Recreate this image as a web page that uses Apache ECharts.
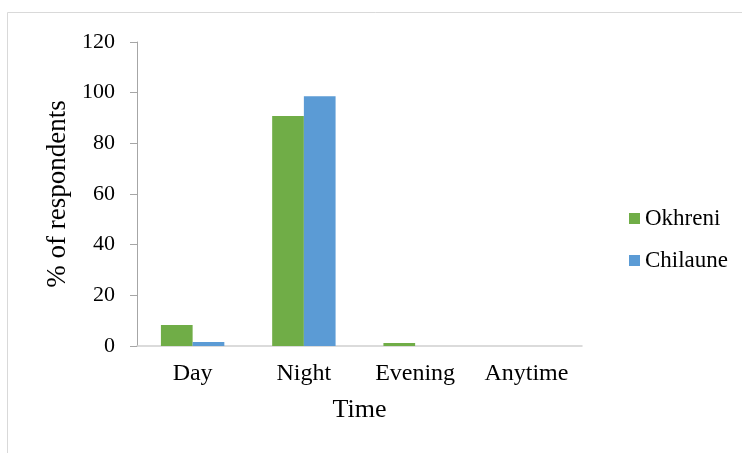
<!DOCTYPE html>
<html><head><meta charset="utf-8">
<script src="https://cdn.jsdelivr.net/npm/echarts@6/dist/echarts.min.js"></script>
<style>html,body{margin:0;padding:0;background:#fff}#c{width:742px;height:453px}</style>
</head><body><div id="c"></div>
<script>
const categories = ['Day', 'Night', 'Evening', 'Anytime'];
const okhreni = [8.3, 90.8, 1.2, 0];
const chilaune = [1.6, 98.6, 0, 0];
const yTicks = [0, 20, 40, 60, 80, 100, 120];

const font = 'Liberation Serif, Times New Roman, serif';
const chart = echarts.init(document.getElementById('c'), null, {renderer: 'canvas'});
chart.setOption({
  animation: false,
  backgroundColor: '#fff',
  graphic: [{
    type: 'rect', silent: true,
    shape: {x: 7.5, y: 12.5, width: 800, height: 500},
    style: {fill: 'none', stroke: '#d9d9d9', lineWidth: 1}
  }],
  grid: {left: 137, right: 160, top: 42, bottom: 107},
  legend: {
    orient: 'vertical', left: 624, top: 202, itemGap: 19,
    itemWidth: 11, itemHeight: 11, icon: 'rect',
    textStyle: {fontFamily: font, fontSize: 23, color: '#000'},
    data: ['Okhreni', 'Chilaune']
  },
  xAxis: {
    type: 'category', data: categories,
    name: 'Time', nameLocation: 'middle', nameGap: 51,
    nameTextStyle: {fontFamily: font, fontSize: 26, color: '#000'},
    axisLine: {lineStyle: {color: '#d0d0d0', width: 1.5}},
    axisTick: {show: false},
    axisLabel: {fontFamily: font, fontSize: 24, color: '#000', margin: 16}
  },
  yAxis: {
    type: 'value', min: 0, max: 120, interval: 20,
    name: '% of respondents', nameLocation: 'middle', nameGap: 66, nameRotate: 90,
    nameTextStyle: {fontFamily: font, fontSize: 27, color: '#000'},
    axisLine: {show: true, lineStyle: {color: '#a6a6a6'}},
    axisTick: {show: true, inside: false, length: 7, lineStyle: {color: '#a6a6a6'}},
    splitLine: {show: false},
    axisLabel: {fontFamily: font, fontSize: 22, color: '#000', margin: 22,
      formatter: v => yTicks.includes(v) ? String(v) : ''}
  },
  series: [
    {name: 'Okhreni', type: 'bar', data: okhreni, barGap: '0%', barCategoryGap: '43%',
     itemStyle: {color: '#70ad47'}},
    {name: 'Chilaune', type: 'bar', data: chilaune, barGap: '0%', barCategoryGap: '43%',
     itemStyle: {color: '#5b9bd5'}}
  ]
});
</script></body></html>
